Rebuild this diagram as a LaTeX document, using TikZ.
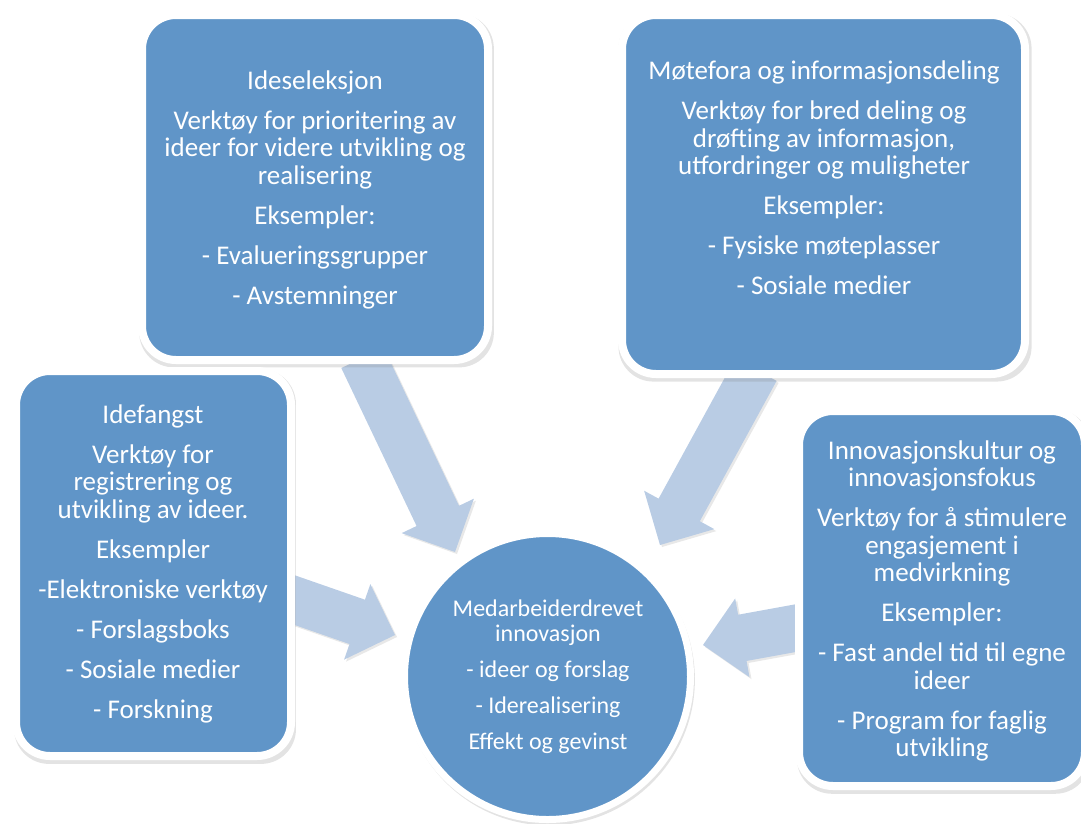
\documentclass[tikz,border=0pt]{standalone}
\usepackage{fontspec}
\setmainfont{Carlito}
\usetikzlibrary{calc,shadows}

\definecolor{boxblue}{HTML}{6095C8}
\definecolor{arrowblue}{HTML}{B9CCE4}

% block arrow from #1 (start, hidden under a box) to #2 (tip); #3 names the head base
\newcommand\blockarrow[3]{%
  \path ($(#2)!40pt!(#1)$) coordinate (#3);
  \fill[flow]
    ($(#1)!23.5pt!90:(#2)$) --
    ($(#3)!23.5pt!90:(#2)$) --
    ($(#3)!40pt!90:(#2)$) --
    (#2) --
    ($(#3)!40pt!-90:(#2)$) --
    ($(#3)!23.5pt!-90:(#2)$) --
    ($(#1)!23.5pt!-90:(#2)$) -- cycle;
}

\tikzset{
  panel/.style={rectangle, rounded corners=34pt, fill=boxblue, draw=white,
    line width=8pt,
    drop shadow={opacity=0.22, shadow xshift=1.5pt, shadow yshift=-3pt, shadow scale=1.025}},
  hub/.style={circle, fill=boxblue, draw=white, line width=7pt,
    minimum size=286pt, inner sep=0pt,
    drop shadow={opacity=0.22, shadow xshift=1.5pt, shadow yshift=-3pt, shadow scale=1.02}},
  flow/.style={arrowblue,
    drop shadow={opacity=0.18, shadow xshift=2pt, shadow yshift=-2pt}},
  paneltext/.style={text=white, align=center, inner sep=0pt,
    font=\fontsize{27}{27.5}\selectfont},
  hubtext/.style={text=white, align=center, inner sep=0pt,
    font=\fontsize{24}{25}\selectfont},
}

\begin{document}
\begin{tikzpicture}[x=1pt,y=-1pt]
\useasboundingbox (0,0) rectangle (1081,823);

% arrow end points
\coordinate (sTL) at (362.5,357.9);
\coordinate (tTL) at (455,552);
\coordinate (sTR) at (756,369.6);
\coordinate (tTR) at (660,545);
\coordinate (sL)  at (280,595);
\coordinate (tL)  at (395,635);
\coordinate (sR)  at (810,625.5);
\coordinate (tR)  at (703,645);

% arrows towards the centre
\blockarrow{sTL}{tTL}{hTL}
\blockarrow{sTR}{tTR}{hTR}
\blockarrow{sL}{tL}{hL}
\blockarrow{sR}{tR}{hR}

% boxes
\node[panel, minimum width=346pt, minimum height=345pt] (sel) at (315,187.5) {};
\node[panel, minimum width=403pt, minimum height=359pt] (mote) at (823.5,194.5) {};
\node[panel, minimum width=275pt, minimum height=385pt] (fangst) at (153.5,563.5) {};
\node[panel, minimum width=286pt, minimum height=375pt] (kultur) at (942,598.5) {};
\node[hub] (hub) at (547.5,676.5) {};

% box texts
\node[paneltext] (selT) at (315,189.5) {Ideseleksjon\\[12.5pt]
  Verktøy for prioritering av\\ ideer for videre utvikling og\\ realisering\\[12.5pt]
  Eksempler:\\[12.5pt]
  - Evalueringsgrupper\\[12.5pt]
  - Avstemninger};

\node[paneltext] (moteT) at (824,178) {Møtefora og informasjonsdeling\\[12.5pt]
  Verktøy for bred deling og\\ drøfting av informasjon,\\ utfordringer og muligheter\\[12.5pt]
  Eksempler:\\[12.5pt]
  - Fysiske møteplasser\\[12.5pt]
  - Sosiale medier};

\node[paneltext] (fangstT) at (153,563.5) {Idefangst\\[12.5pt]
  Verktøy for\\ registrering og\\ utvikling av ideer.\\[12.5pt]
  Eksempler\\[12.5pt]
  -Elektroniske verktøy\\[12.5pt]
  - Forslagsboks\\[12.5pt]
  - Sosiale medier\\[12.5pt]
  - Forskning};

\node[paneltext] (kulturT) at (942,601) {Innovasjonskultur og\\ innovasjonsfokus\\[12.5pt]
  Verktøy for å stimulere\\ engasjement i\\ medvirkning\\[12.5pt]
  Eksempler:\\[12.5pt]
  - Fast andel tid til egne\\ ideer\\[12.5pt]
  - Program for faglig\\ utvikling};

\node[hubtext] (hubT) at (548,676.5) {Medarbeiderdrevet\\ innovasjon\\[11pt]
  - ideer og forslag\\[11pt]
  - Iderealisering\\[11pt]
  Effekt og gevinst};
\end{tikzpicture}
\end{document}
